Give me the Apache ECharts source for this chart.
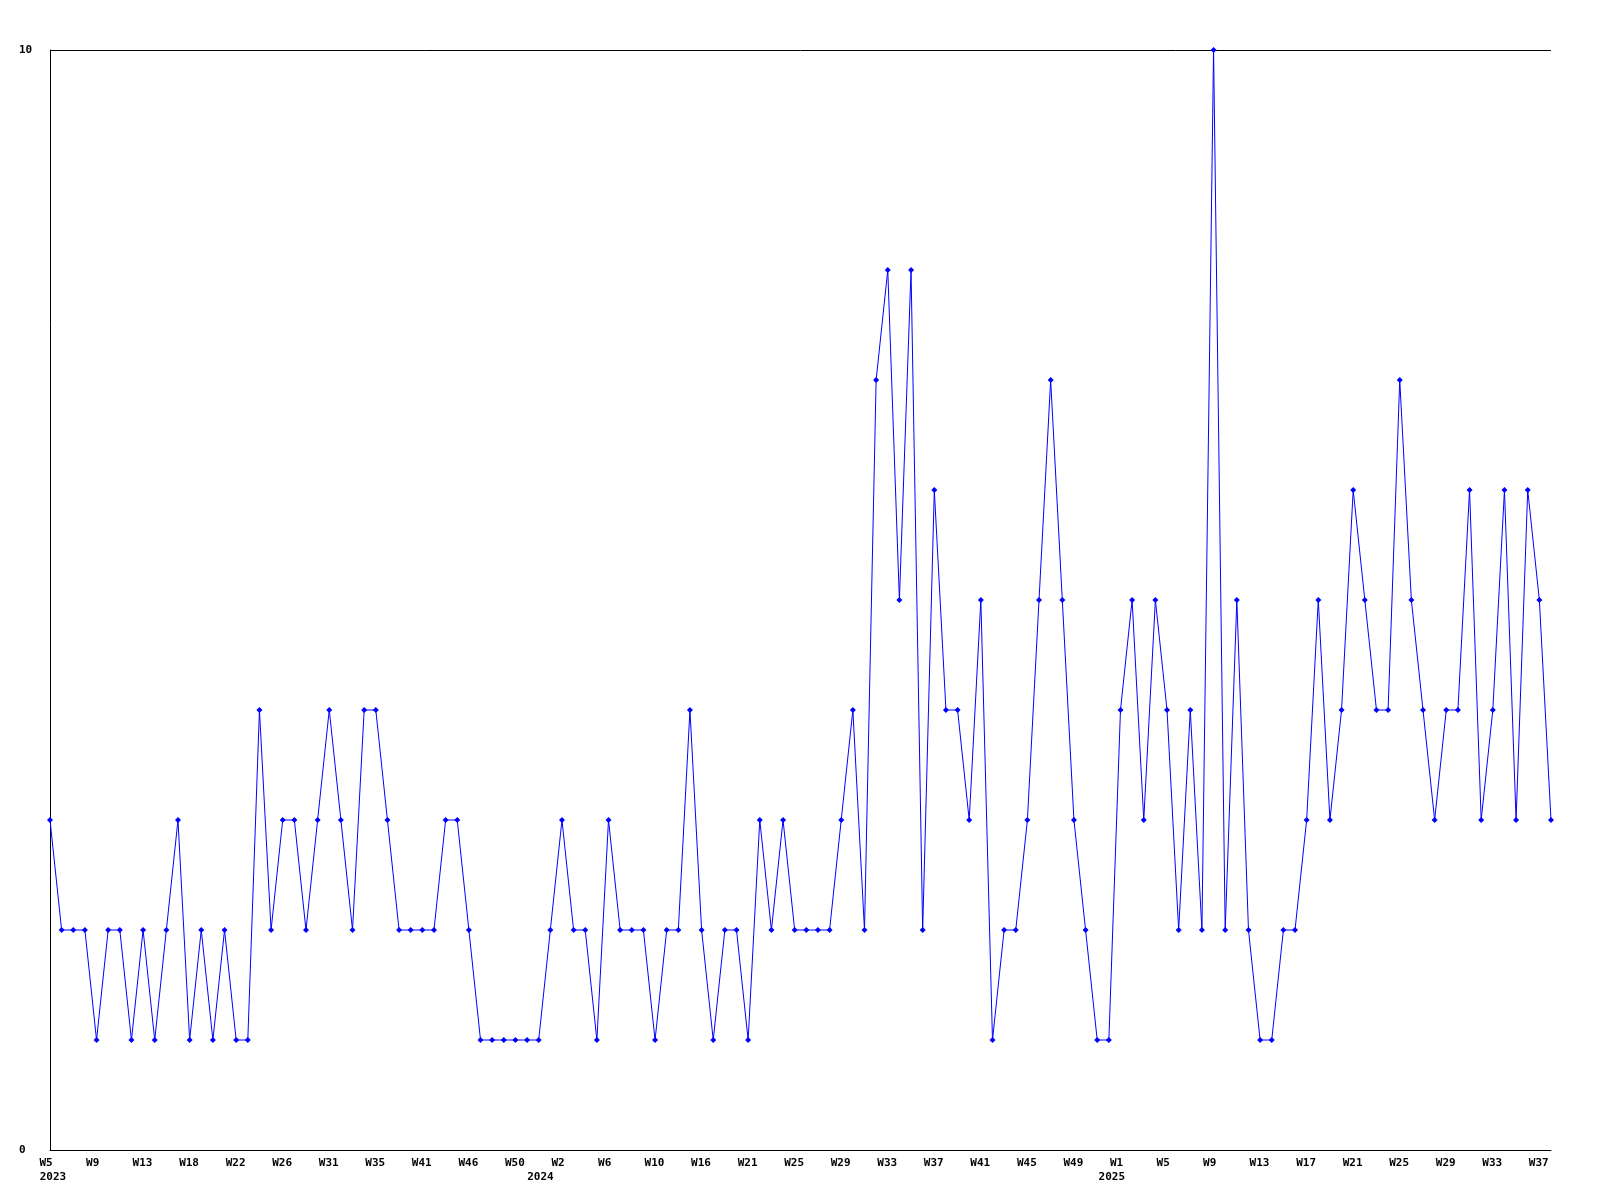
<!DOCTYPE html>
<html>
<head>
<meta charset="utf-8">
<script src="https://cdn.jsdelivr.net/npm/echarts@6/dist/echarts.min.js"></script>
<style>
  html, body { margin: 0; padding: 0; background: #ffffff; }
  #chart { width: 1600px; height: 1200px; }
</style>
</head>
<body>
<div id="chart"></div>
<script>
// ISO weeks present in the data, per year
const weeks2023 = [5, 6, 7, 8, 9, 10, 11, 12, 13, 14, 15, 16, 18, 19, 20, 21, 22, 23, 24, 25,
  26, 27, 28, 29, 31, 32, 33, 34, 35, 36, 38, 39, 41, 42, 43, 44, 46, 47, 48, 49, 50, 51, 52];
const weeks2024 = [1, 2, 3, 4, 5, 6, 7, 8, 9, 10, 11, 13, 14, 16, 17, 19, 20, 21, 22, 23, 24,
  25, 26, 27, 28, 29, 30, 31, 32, 33, 34, 35, 36, 37, 38, 39, 40, 41, 42, 43, 44, 45, 46, 47,
  48, 49, 50, 51, 52];
const weeks2025 = [1, 2, 3, 4, 5, 6, 7, 8, 9, 10, 11, 12, 13, 14, 15, 16, 17, 18, 19, 20, 21,
  22, 23, 24, 25, 26, 27, 28, 29, 30, 31, 32, 33, 34, 35, 36, 37, 38];

const counts = [
  3, 2, 2, 2, 1, 2, 2, 1, 2, 1, 2, 3, 1, 2, 1, 2, 1, 1,
  4, 2, 3, 3, 2, 3, 4, 3, 2, 4, 4, 3, 2, 2, 2, 2, 3, 3,
  2, 1, 1, 1, 1, 1, 1, 2, 3, 2, 2, 1, 3, 2, 2, 2, 1, 2,
  2, 4, 2, 1, 2, 2, 1, 3, 2, 3, 2, 2, 2, 2, 3, 4, 2, 7,
  8, 5, 8, 2, 6, 4, 4, 3, 5, 1, 2, 2, 3, 5, 7, 5, 3, 2,
  1, 1, 4, 5, 3, 5, 4, 2, 4, 2, 10, 2, 5, 2, 1, 1, 2, 2,
  3, 5, 3, 4, 6, 5, 4, 4, 7, 5, 4, 3, 4, 4, 6, 3, 4, 6,
  3, 6, 5, 3
];

const yTicks = [0, 10];

// year captions and where they sit along the week axis (in point index units)
const years = ['2023', '2024', '2025'];
const yearPos = [0.25, 42.15, 91.25];

const weekLabels = [];
weeks2023.forEach(w => weekLabels.push('W' + w));
weeks2024.forEach(w => weekLabels.push('W' + w));
weeks2025.forEach(w => weekLabels.push('W' + w));

const font = '"DejaVu Sans Mono", monospace';

const chart = echarts.init(document.getElementById('chart'), null, { renderer: 'canvas' });

chart.setOption({
  animation: false,
  backgroundColor: '#ffffff',
  grid: { left: 50, right: 49, top: 50, bottom: 50 },
  xAxis: [
    {
      type: 'category',
      data: weekLabels,
      boundaryGap: false,
      axisLine: { lineStyle: { color: '#000000', width: 1 } },
      axisTick: { show: false },
      splitLine: { show: false },
      axisLabel: {
        interval: 3,
        margin: 6,
        color: '#000000',
        formatter: v => '{w|' + v + '}',
        rich: {
          w: {
            width: 21,
            align: 'left',
            fontFamily: font,
            fontWeight: 'bold',
            fontSize: 11,
            lineHeight: 14,
            color: '#000000'
          }
        }
      }
    },
    {
      type: 'value',
      position: 'bottom',
      min: 0,
      max: weekLabels.length - 1,
      axisLine: { show: false },
      axisTick: { show: false },
      splitLine: { show: false },
      axisLabel: {
        customValues: yearPos,
        margin: 20,
        color: '#000000',
        fontFamily: font,
        fontWeight: 'bold',
        fontSize: 11,
        lineHeight: 14,
        formatter: v => years[yearPos.indexOf(v)] || ''
      }
    }
  ],
  yAxis: {
    type: 'value',
    min: yTicks[0],
    max: yTicks[1],
    interval: yTicks[1] - yTicks[0],
    axisLine: { show: true, lineStyle: { color: '#000000', width: 1 } },
    axisTick: { show: false },
    splitLine: { show: true, lineStyle: { color: '#000000', width: 1 } },
    axisLabel: {
      align: 'left',
      margin: 31,
      color: '#000000',
      fontFamily: font,
      fontWeight: 'bold',
      fontSize: 11
    }
  },
  series: [
    {
      type: 'line',
      xAxisIndex: 0,
      data: counts,
      symbol: 'diamond',
      symbolSize: 6,
      showAllSymbol: true,
      lineStyle: { color: '#0000ff', width: 1 },
      itemStyle: { color: '#0000ff' }
    }
  ]
});
</script>
</body>
</html>
